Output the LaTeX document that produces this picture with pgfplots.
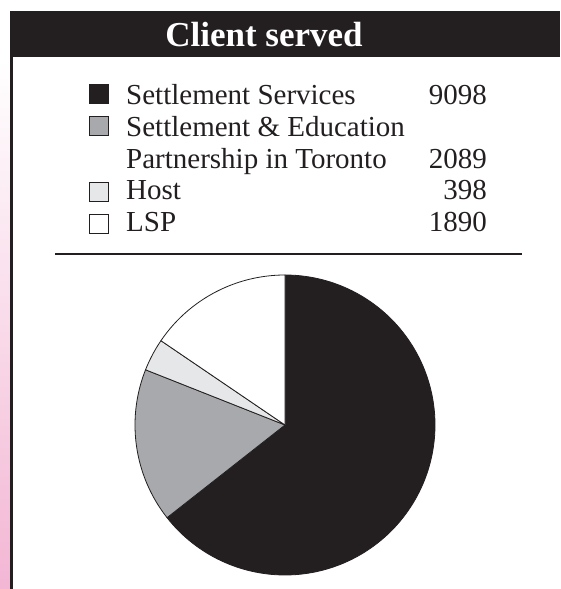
\documentclass[border=0pt]{standalone}
\usepackage{pgfplots}
\pgfplotsset{compat=1.18}
\usepackage{fontspec}
\setmainfont{Liberation Serif}
\definecolor{ink}{RGB}{35,31,32}
\definecolor{midgray}{RGB}{167,169,172}
\definecolor{ltgray}{RGB}{230,231,232}
\definecolor{pinkstrip}{RGB}{243,182,212}
% shares of the pie as drawn (percent)
\def\pA{64.4}\def\pB{16.6}\def\pC{3.5}\def\pD{15.5}
\pgfmathsetmacro{\aA}{90}
\pgfmathsetmacro{\aB}{\aA-3.6*\pA}
\pgfmathsetmacro{\aC}{\aB-3.6*\pB}
\pgfmathsetmacro{\aD}{\aC-3.6*\pC}
\pgfmathsetmacro{\aE}{\aD-3.6*\pD}
\begin{document}
\begin{tikzpicture}[x=1pt,y=1pt]
\useasboundingbox (0,0) rectangle (560,589);
\fill[white] (0,0) rectangle (560,589);
\shade[top color=white,bottom color=pinkstrip] (0,0) rectangle (10,529);
\fill[ink] (10,0) rectangle (12.5,578);
\fill[ink] (10,532) rectangle (560,578);
\node[white, font=\bfseries\fontsize{35}{40}\selectfont, anchor=base, inner sep=0] at (264,542.5) {Client served};
% legend
\tikzset{lg/.style={anchor=base west, inner sep=0, text=ink, font=\fontsize{29}{34}\selectfont},
         lv/.style={anchor=base east, inner sep=0, text=ink, font=\fontsize{29}{34}\selectfont}}
\filldraw[fill=ink, draw=ink, line width=0.8pt] (89.5,485.5) rectangle ++(19,19);
\filldraw[fill=midgray, draw=ink, line width=0.8pt] (89.5,453.5) rectangle ++(19,19);
\filldraw[fill=ltgray, draw=ink, line width=0.8pt] (89.5,387.5) rectangle ++(19,19);
\filldraw[fill=white, draw=ink, line width=0.8pt] (89.5,355.5) rectangle ++(19,19);
\node[lg] at (126,484) {Settlement Services};
\node[lg] at (126,452) {Settlement \& Education};
\node[lg] at (126,420.5) {Partnership in Toronto};
\node[lg] at (126,389) {Host};
\node[lg] at (126,357) {LSP};
\node[lv] at (487,484) {9098};
\node[lv] at (487,420.5) {2089};
\node[lv] at (487,389) {398};
\node[lv] at (487,357) {1890};
\draw[ink, line width=2pt] (55,335) -- (522,335);
\coordinate (pc) at (285,164);
\begin{axis}[at={(pc)}, anchor=center, width=300pt, height=300pt,
  scale only axis, xmin=-1, xmax=1, ymin=-1, ymax=1, hide axis, clip=false]
\addplot[fill=ink, draw=ink, line width=0.8pt, domain=\aA:\aB, samples=150, variable=\t]
  ({cos(\t)},{sin(\t)}) -- (axis cs:0,0) -- cycle;
\addplot[fill=midgray, draw=ink, line width=0.8pt, domain=\aB:\aC, samples=60, variable=\t]
  ({cos(\t)},{sin(\t)}) -- (axis cs:0,0) -- cycle;
\addplot[fill=ltgray, draw=ink, line width=0.8pt, domain=\aC:\aD, samples=20, variable=\t]
  ({cos(\t)},{sin(\t)}) -- (axis cs:0,0) -- cycle;
\addplot[fill=white, draw=ink, line width=0.8pt, domain=\aD:\aE, samples=60, variable=\t]
  ({cos(\t)},{sin(\t)}) -- (axis cs:0,0) -- cycle;
\end{axis}
\end{tikzpicture}
\end{document}
